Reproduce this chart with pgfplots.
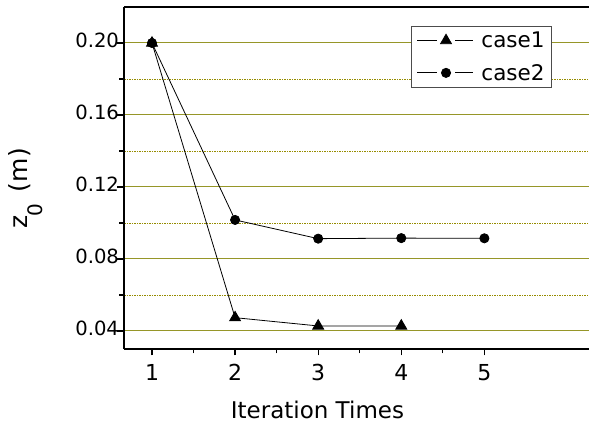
\documentclass[border=0pt]{standalone}
\usepackage{fontspec}
\setmainfont{DejaVu Sans}
\usepackage{pgfplots}
\pgfplotsset{compat=1.18}
\usetikzlibrary{calc}
\definecolor{gridolive}{RGB}{150,150,40}
\definecolor{minorolive}{RGB}{150,140,0}
\begin{document}
\begin{tikzpicture}
\begin{axis}[
 name=ax,
 scale only axis, width=465pt, height=342pt,
 xmin=0.663, xmax=6.259, ymin=0.03, ymax=0.22,
 axis x line*=box, axis y line*=left,
 axis line style={line width=1.5pt, black},
 xtick={1,2,3,4,5}, xticklabels={1,2,3,4,5},
 minor x tick num=1,
 ytick={0.04,0.08,0.12,0.16,0.20}, yticklabels={0.04,0.08,0.12,0.16,0.20},
 minor y tick num=1,
 tick align=outside,
 major tick length=6.5pt, minor tick length=4.5pt,
 tick style={line width=1.2pt, black},
 xtick pos=left, ytick pos=left,
 ymajorgrids, yminorgrids,
 major grid style={gridolive, line width=1.0pt},
 minor grid style={minorolive, line width=0.9pt, dash pattern=on 2pt off 1pt on 1pt off 1pt},
 xticklabel shift=5pt,
 yticklabel shift=-5pt,
 xticklabel style={font=\fontsize{22}{26}\selectfont},
 yticklabel style={font=\fontsize{19.6}{24}\selectfont, yshift=2.8pt},
 xlabel={Iteration Times},
 xlabel style={at={(axis description cs:0.416,-0.2018)}, anchor=base, font=\fontsize{23}{28}\selectfont},
 ylabel={z\kern-1pt\raisebox{-15pt}{\fontsize{20}{22}\selectfont 0}\hspace{12pt}(m)},
 ylabel style={at={(axis description cs:-0.2065,0.4693)}, anchor=base, font=\fontsize{25}{30}\selectfont},
 legend style={at={(axis description cs:0.9204,0.9444)}, anchor=north east, draw=black!70, line width=0.9pt,
   font=\fontsize{21.5}{25}\selectfont, inner xsep=5pt, inner ysep=3.5pt, row sep=11pt,
   /tikz/every odd column/.append style={column sep=6pt}},
 legend cell align=left,
 legend image code/.code={\draw[mark repeat=2,mark phase=2, dash pattern=on 20pt off 18pt on 18pt] plot coordinates {(0pt,0pt)(29pt,0pt)(56pt,0pt)};},
]
\addplot[black, line width=0.8pt, mark=triangle*, mark size=6.3pt, mark options={solid}] coordinates {(1,0.200)(2,0.0474)(3,0.0428)(4,0.0428)};
\addlegendentry{case1}
\addplot[black, line width=0.8pt, mark=*, mark size=4.6pt, mark options={solid}] coordinates {(1,0.200)(2,0.1017)(3,0.0913)(4,0.0916)(5,0.0915)};
\addlegendentry{case2}
\end{axis}
\pgfresetboundingbox
\path ($(ax.south west)+(-124pt,-79pt)$) rectangle ($(ax.north east)+(0pt,7pt)$);
\end{tikzpicture}
\end{document}
